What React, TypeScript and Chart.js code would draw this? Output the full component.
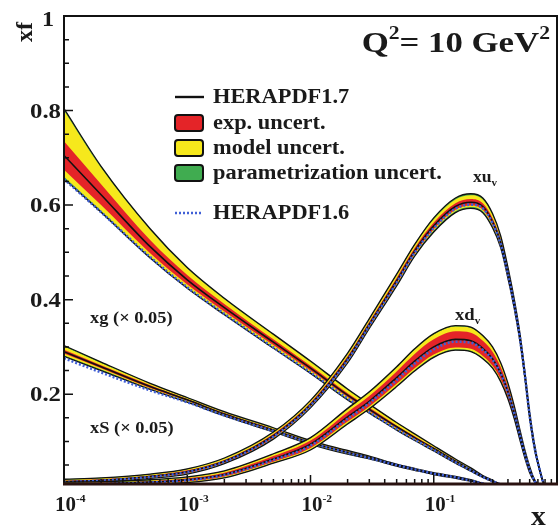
import React, { useEffect, useRef } from "react";
import { Chart, registerables } from "chart.js";

Chart.register(...registerables);

// ---------------- data ----------------
const xGrid = [1e-4, 2e-4, 5e-4, 1e-3, 2e-3, 5e-3, 1e-2, 2e-2, 3e-2, 5e-2, 0.07, 0.1, 0.15, 0.2, 0.25, 0.3, 0.35, 0.4, 0.45, 0.5, 0.55, 0.6, 0.65, 0.7, 0.8, 0.9, 1.0];

// xg (x 0.05)
const xgCentral = [0.705, 0.622, 0.512, 0.442, 0.383, 0.31, 0.255, 0.198, 0.168, 0.131, 0.108, 0.085, 0.058, 0.04, 0.026, 0.016, 0.009, 0.005, 0.002, 0.001, 0, 0, 0, 0, 0, 0, 0];
const xgExp = [0.03, 0.022, 0.014, 0.01, 0.008, 0.006, 0.005, 0.004, 0.004, 0.003, 0.003, 0.002, 0.002, 0.001, 0.001, 0.001, 0, 0, 0, 0, 0, 0, 0, 0, 0, 0, 0];
const xgModUp = [0.065, 0.035, 0.022, 0.014, 0.01, 0.009, 0.008, 0.007, 0.006, 0.005, 0.004, 0.003, 0.002, 0.002, 0.001, 0.001, 0, 0, 0, 0, 0, 0, 0, 0, 0, 0, 0];
const xgModDn = [0.015, 0.012, 0.008, 0.006, 0.005, 0.005, 0.004, 0.004, 0.003, 0.003, 0.002, 0.002, 0.001, 0.001, 0.001, 0, 0, 0, 0, 0, 0, 0, 0, 0, 0, 0, 0];
const xgPar = [0.004, 0.003, 0.002, 0.002, 0.002, 0.002, 0.002, 0.002, 0.001, 0.001, 0.001, 0.001, 0.001, 0.001, 0, 0, 0, 0, 0, 0, 0, 0, 0, 0, 0, 0, 0];
const xgH16 = [0.655, 0.585, 0.49, 0.426, 0.37, 0.299, 0.246, 0.191, 0.162, 0.126, 0.104, 0.082, 0.056, 0.039, 0.025, 0.016, 0.009, 0.005, 0.002, 0.001, 0, 0, 0, 0, 0, 0, 0];

// xS (x 0.05)
const xsCentral = [0.29, 0.258, 0.216, 0.188, 0.158, 0.124, 0.098, 0.077, 0.066, 0.05, 0.041, 0.032, 0.024, 0.017, 0.011, 0.007, 0.004, 0.002, 0.001, 0.0005, 0, 0, 0, 0, 0, 0, 0];
const xsExp = [0.004, 0.003, 0.003, 0.002, 0.002, 0.002, 0.002, 0.002, 0.001, 0.001, 0.001, 0.001, 0.001, 0.001, 0.001, 0, 0, 0, 0, 0, 0, 0, 0, 0, 0, 0, 0];
const xsModUp = [0.007, 0.005, 0.003, 0.002, 0.002, 0.002, 0.001, 0.001, 0.001, 0.001, 0.001, 0.001, 0.001, 0.001, 0, 0, 0, 0, 0, 0, 0, 0, 0, 0, 0, 0, 0];
const xsModDn = [0.004, 0.003, 0.002, 0.002, 0.001, 0.001, 0.001, 0.001, 0.001, 0.001, 0.001, 0.001, 0.001, 0, 0, 0, 0, 0, 0, 0, 0, 0, 0, 0, 0, 0, 0];
const xsPar = [0.002, 0.002, 0.001, 0.001, 0.001, 0.001, 0.001, 0.001, 0.001, 0, 0, 0, 0, 0, 0, 0, 0, 0, 0, 0, 0, 0, 0, 0, 0, 0, 0];
const xsH16 = [0.276, 0.246, 0.208, 0.183, 0.155, 0.122, 0.097, 0.076, 0.065, 0.05, 0.041, 0.032, 0.024, 0.017, 0.011, 0.007, 0.004, 0.002, 0.001, 0.0005, 0, 0, 0, 0, 0, 0, 0];

// xu_v
const xuCentral = [0.015, 0.018, 0.026, 0.036, 0.058, 0.112, 0.178, 0.275, 0.348, 0.44, 0.503, 0.556, 0.597, 0.606, 0.597, 0.565, 0.52, 0.455, 0.39, 0.32, 0.238, 0.155, 0.095, 0.055, 0.006, 0.001, 0];
const xuExp = [0.002, 0.002, 0.002, 0.003, 0.003, 0.004, 0.004, 0.005, 0.005, 0.006, 0.006, 0.007, 0.007, 0.007, 0.007, 0.007, 0.006, 0.006, 0.005, 0.005, 0.004, 0.004, 0.003, 0.002, 0.001, 0, 0];
const xuModUp = [0.002, 0.002, 0.002, 0.002, 0.003, 0.003, 0.004, 0.005, 0.005, 0.006, 0.006, 0.007, 0.008, 0.008, 0.008, 0.007, 0.006, 0.005, 0.004, 0.003, 0.003, 0.002, 0.002, 0.001, 0, 0, 0];
const xuModDn = [0.001, 0.001, 0.001, 0.001, 0.001, 0.002, 0.002, 0.002, 0.002, 0.003, 0.003, 0.003, 0.003, 0.003, 0.003, 0.003, 0.003, 0.002, 0.002, 0.002, 0.002, 0.001, 0.001, 0.001, 0, 0, 0];
const xuPar = [0.001, 0.001, 0.001, 0.001, 0.001, 0.001, 0.001, 0.002, 0.002, 0.002, 0.002, 0.003, 0.003, 0.003, 0.003, 0.003, 0.002, 0.002, 0.002, 0.001, 0.001, 0.001, 0.001, 0, 0, 0, 0];
const xuH16 = [0.014, 0.017, 0.025, 0.035, 0.057, 0.11, 0.176, 0.272, 0.345, 0.436, 0.499, 0.551, 0.592, 0.601, 0.593, 0.562, 0.517, 0.453, 0.389, 0.319, 0.238, 0.155, 0.095, 0.055, 0.006, 0.001, 0];

// xd_v
const xdCentral = [0.01, 0.011, 0.014, 0.019, 0.03, 0.063, 0.094, 0.152, 0.185, 0.235, 0.27, 0.3, 0.316, 0.313, 0.297, 0.275, 0.244, 0.205, 0.16, 0.113, 0.072, 0.04, 0.019, 0.007, 0.001, 0, 0];
const xdExp = [0.002, 0.002, 0.002, 0.003, 0.004, 0.006, 0.008, 0.01, 0.011, 0.013, 0.015, 0.016, 0.017, 0.017, 0.016, 0.015, 0.013, 0.011, 0.009, 0.007, 0.005, 0.004, 0.002, 0.001, 0, 0, 0];
const xdModUp = [0.001, 0.001, 0.002, 0.002, 0.003, 0.004, 0.005, 0.006, 0.007, 0.008, 0.009, 0.01, 0.01, 0.01, 0.009, 0.008, 0.007, 0.006, 0.005, 0.004, 0.003, 0.002, 0.001, 0.001, 0, 0, 0];
const xdModDn = [0.001, 0.001, 0.001, 0.002, 0.002, 0.002, 0.003, 0.003, 0.003, 0.004, 0.004, 0.004, 0.004, 0.004, 0.004, 0.003, 0.003, 0.003, 0.002, 0.002, 0.002, 0.001, 0.001, 0, 0, 0, 0];
const xdPar = [0.001, 0.001, 0.001, 0.001, 0.001, 0.001, 0.001, 0.002, 0.002, 0.002, 0.002, 0.002, 0.002, 0.002, 0.002, 0.002, 0.002, 0.001, 0.001, 0.001, 0.001, 0.001, 0, 0, 0, 0, 0];
const xdH16 = [0.009, 0.01, 0.013, 0.018, 0.029, 0.061, 0.091, 0.148, 0.181, 0.23, 0.265, 0.295, 0.311, 0.309, 0.294, 0.273, 0.243, 0.204, 0.16, 0.113, 0.072, 0.04, 0.019, 0.007, 0.001, 0, 0];

// axes / ticks / labels
const yMajorTicks = [0.2, 0.4, 0.6, 0.8, 1];
const yTickLabels = ["0.2", "0.4", "0.6", "0.8", "1"];
const yMinorTicks = [0.05, 0.1, 0.15, 0.25, 0.3, 0.35, 0.45, 0.5, 0.55, 0.65, 0.7, 0.75, 0.85, 0.9, 0.95];
const xMajorTicks = [1e-4, 1e-3, 1e-2, 1e-1];
const xTickExponents = ["-4", "-3", "-2", "-1"];
const xMinorMultipliers = [2, 3, 4, 5, 6, 7, 8, 9];
const legendLabels = ["HERAPDF1.7", "exp. uncert.", "model uncert.", "parametrization uncert.", "HERAPDF1.6"];
const curveLabels = ["xg (\u00d7 0.05)", "xS (\u00d7 0.05)"];

const SERIF = "'Liberation Serif', 'Times New Roman', serif";
const C_EXP = "rgb(228,36,40)";
const C_MOD = "rgb(246,232,28)";
const C_PAR = "rgb(64,172,80)";
const C_H16 = "rgb(64,96,214)";
const INK = "#1a1a1a";

type Curve = { c: number[]; exp: number[]; up: number[]; dn: number[]; par: number[]; h16: number[] };
const curves: Curve[] = [
  { c: xgCentral, exp: xgExp, up: xgModUp, dn: xgModDn, par: xgPar, h16: xgH16 },
  { c: xsCentral, exp: xsExp, up: xsModUp, dn: xsModDn, par: xsPar, h16: xsH16 },
  { c: xuCentral, exp: xuExp, up: xuModUp, dn: xuModDn, par: xuPar, h16: xuH16 },
  { c: xdCentral, exp: xdExp, up: xdModUp, dn: xdModDn, par: xdPar, h16: xdH16 },
];

function pts(f: (i: number) => number) {
  return xGrid.map((x, i) => ({ x, y: f(i) }));
}

function buildDatasets() {
  const ds: any[] = [];
  const base = { pointRadius: 0, borderWidth: 0, cubicInterpolationMode: "monotone", fill: false, borderColor: "rgba(0,0,0,0)" };
  for (const k of curves) {
    const totLo = (i: number) => k.c[i] - k.exp[i] - k.dn[i] - k.par[i];
    const totHi = (i: number) => k.c[i] + k.exp[i] + k.up[i] + k.par[i];
    ds.push({ ...base, data: pts(totLo) });
    ds.push({ ...base, data: pts(totHi), fill: "-1", backgroundColor: C_PAR });
    ds.push({ ...base, data: pts((i) => k.c[i] - k.exp[i] - k.dn[i]) });
    ds.push({ ...base, data: pts((i) => k.c[i] + k.exp[i] + k.up[i]), fill: "-1", backgroundColor: C_MOD });
    ds.push({ ...base, data: pts((i) => k.c[i] - k.exp[i]) });
    ds.push({ ...base, data: pts((i) => k.c[i] + k.exp[i]), fill: "-1", backgroundColor: C_EXP });
    ds.push({ ...base, data: pts(totLo), borderWidth: 1.3, borderColor: "#111" });
    ds.push({ ...base, data: pts(totHi), borderWidth: 1.3, borderColor: "#111" });
    ds.push({ ...base, data: pts((i) => k.c[i]), borderWidth: 1.6, borderColor: "#111" });
    ds.push({ ...base, data: pts((i) => k.h16[i]), borderWidth: 2.6, borderColor: C_H16, borderDash: [2, 2] });
  }
  ds.forEach((d, i) => (d.order = ds.length - i));
  return ds;
}

type Part = { t: string; size: number; dy: number };
// draws bold serif text pieces, horizontally stretched by sx
function drawParts(ctx: CanvasRenderingContext2D, parts: Part[], x: number, y: number, align: "left" | "right" | "center", sx: number) {
  let total = 0;
  for (const p of parts) {
    ctx.font = `bold ${p.size}px ${SERIF}`;
    total += ctx.measureText(p.t).width * sx;
  }
  let cx = align === "right" ? x - total : align === "center" ? x - total / 2 : x;
  ctx.textAlign = "left";
  for (const p of parts) {
    ctx.font = `bold ${p.size}px ${SERIF}`;
    ctx.save();
    ctx.translate(cx, y + p.dy);
    ctx.scale(sx, 1);
    ctx.fillText(p.t, 0, 0);
    ctx.restore();
    cx += ctx.measureText(p.t).width * sx;
  }
}

const overlay = {
  id: "overlay",
  afterDraw(chart: any) {
    const { ctx, chartArea: ca, scales } = chart;
    const xs = scales.x;
    const ys = scales.y;
    ctx.save();
    ctx.fillStyle = "#111";
    ctx.strokeStyle = "#111";
    // inward ticks y
    ctx.lineWidth = 1.5;
    ctx.beginPath();
    for (const v of yMajorTicks) {
      const py = ys.getPixelForValue(v);
      ctx.moveTo(ca.left, py);
      ctx.lineTo(ca.left + 9, py);
    }
    for (const v of yMinorTicks) {
      const py = ys.getPixelForValue(v);
      ctx.moveTo(ca.left, py);
      ctx.lineTo(ca.left + 5, py);
    }
    // inward ticks x
    for (const d of xMajorTicks) {
      const px = xs.getPixelForValue(d);
      ctx.moveTo(px, ca.bottom);
      ctx.lineTo(px, ca.bottom - 9);
      for (const m of xMinorMultipliers) {
        const v = d * m;
        if (v >= 1) continue;
        const p2 = xs.getPixelForValue(v);
        ctx.moveTo(p2, ca.bottom);
        ctx.lineTo(p2, ca.bottom - 5);
      }
    }
    ctx.stroke();
    // frame
    ctx.lineWidth = 2;
    ctx.strokeStyle = "#111";
    ctx.strokeRect(ca.left, ca.top, ca.right - ca.left, ca.bottom - ca.top);
    ctx.lineWidth = 3;
    ctx.strokeStyle = "#2a1210";
    ctx.beginPath();
    ctx.moveTo(ca.left - 1, ca.bottom);
    ctx.lineTo(ca.right + 1, ca.bottom);
    ctx.stroke();

    ctx.fillStyle = INK;
    ctx.textBaseline = "alphabetic";
    // y tick labels
    yMajorTicks.forEach((v, i) => {
      const py = ys.getPixelForValue(v);
      if (v === 1) {
        drawParts(ctx, [{ t: yTickLabels[i], size: 21, dy: 0 }], 48, py + 10, "center", 1.15);
      } else {
        drawParts(ctx, [{ t: yTickLabels[i], size: 21, dy: 0 }], 61, py + 7, "right", 1.18);
      }
    });
    // x tick labels
    xMajorTicks.forEach((d, i) => {
      const px = xs.getPixelForValue(d);
      drawParts(ctx, [{ t: "10", size: 20, dy: 0 }, { t: xTickExponents[i], size: 11, dy: -9 }], px - 9, 511, "left", 1.05);
    });
    // axis titles
    drawParts(ctx, [{ t: "x", size: 28, dy: 0 }], 531, 525, "left", 1.05);
    ctx.save();
    ctx.translate(32, 32);
    ctx.rotate(-Math.PI / 2);
    drawParts(ctx, [{ t: "xf", size: 24, dy: 0 }], 0, 0, "center", 1.0);
    ctx.restore();

    // title
    drawParts(ctx, [
      { t: "Q", size: 29, dy: 0 },
      { t: "2", size: 18, dy: -13 },
      { t: "= 10 GeV", size: 29, dy: 0 },
      { t: "2", size: 18, dy: -13 },
    ], 550, 52, "right", 1.2);

    // curve labels
    drawParts(ctx, [{ t: curveLabels[0], size: 16, dy: 0 }], 90, 323, "left", 1.15);
    drawParts(ctx, [{ t: curveLabels[1], size: 16, dy: 0 }], 90, 433, "left", 1.15);
    drawParts(ctx, [{ t: "xu", size: 16, dy: 0 }, { t: "v", size: 10, dy: 4 }], 473, 182, "left", 1.1);
    drawParts(ctx, [{ t: "xd", size: 17, dy: 0 }, { t: "v", size: 10, dy: 4 }], 455, 320, "left", 1.1);

    // legend
    const lx = 175;
    const tx = 213;
    const rows = [97, 123, 148, 173, 213];
    ctx.lineWidth = 2.4;
    ctx.strokeStyle = "#111";
    ctx.beginPath();
    ctx.moveTo(lx, rows[0]);
    ctx.lineTo(lx + 29, rows[0]);
    ctx.stroke();
    const boxCols = [C_EXP, C_MOD, C_PAR];
    boxCols.forEach((col, i) => {
      const cy = rows[i + 1];
      ctx.beginPath();
      (ctx as any).roundRect(lx, cy - 8, 28, 16, 3);
      ctx.fillStyle = col;
      ctx.fill();
      ctx.lineWidth = 2;
      ctx.strokeStyle = "#111";
      ctx.stroke();
    });
    ctx.strokeStyle = C_H16;
    ctx.lineWidth = 2.4;
    ctx.setLineDash([2, 2]);
    ctx.beginPath();
    ctx.moveTo(lx, rows[4]);
    ctx.lineTo(lx + 26, rows[4]);
    ctx.stroke();
    ctx.setLineDash([]);
    ctx.fillStyle = INK;
    ctx.textBaseline = "middle";
    legendLabels.forEach((t, i) => drawParts(ctx, [{ t, size: 20, dy: 0 }], tx, rows[i] + 1, "left", 1.12));
    ctx.restore();
  },
};

export default function App() {
  const ref = useRef<HTMLCanvasElement | null>(null);
  useEffect(() => {
    if (!ref.current) return;
    const chart = new Chart(ref.current, {
      type: "line",
      data: { datasets: buildDatasets() },
      options: {
        animation: false,
        responsive: false,
        events: [],
        layout: { padding: { top: 16, right: 2, left: 0, bottom: 0 } },
        plugins: { legend: { display: false }, tooltip: { enabled: false }, title: { display: false } },
        scales: {
          x: {
            type: "logarithmic",
            min: 1e-4,
            max: 1,
            grid: { display: false, drawTicks: false },
            border: { display: false },
            ticks: { display: false },
            afterFit: (s: any) => {
              s.height = 43;
            },
          },
          y: {
            type: "linear",
            min: 0.01,
            max: 1,
            grid: { display: false, drawTicks: false },
            border: { display: false },
            ticks: { display: false },
            afterFit: (s: any) => {
              s.width = 64;
            },
          },
        },
      } as any,
      plugins: [overlay],
    });
    return () => chart.destroy();
  }, []);
  return (
    <div style={{ position: "absolute", left: 0, top: 0, width: 559, height: 527, background: "#fff" }}>
      <canvas ref={ref} width={559} height={527} style={{ display: "block" }} />
    </div>
  );
}
